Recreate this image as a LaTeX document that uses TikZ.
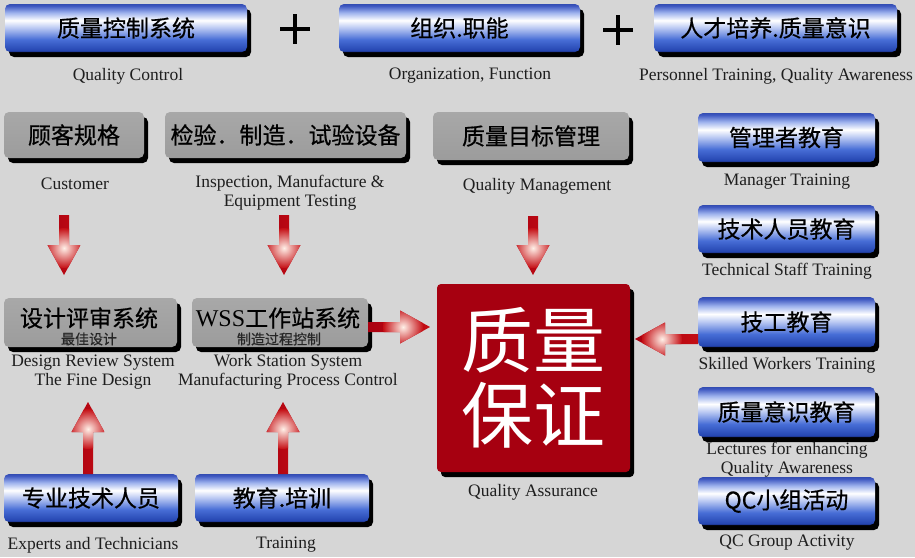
\documentclass[tikz,border=0pt]{standalone}
\usepackage{fontspec}
\setmainfont{Liberation Serif}
\newfontfamily\cjk{Noto Sans CJK SC}
\newfontfamily\cjkbox{Noto Sans CJK SC}[FakeBold=0.6]
\usetikzlibrary{shadows}
\definecolor{bg}{RGB}{214,214,214}
\definecolor{boxgray}{RGB}{156,156,156}
\definecolor{boxgraytop}{RGB}{168,168,168}
\definecolor{qred}{RGB}{166,0,16}
\definecolor{arrowred}{RGB}{196,14,20}
\definecolor{arrowdark}{RGB}{170,0,16}
\definecolor{arrowglow}{RGB}{255,240,232}
\definecolor{labeltext}{RGB}{30,30,30}
\pgfdeclareverticalshading{bluegrad}{100bp}{rgb(0bp)=(0.1,0.18,0.5); rgb(25bp)=(0.1,0.18,0.5); rgb(27bp)=(0.15,0.28,0.7); rgb(38bp)=(0.28,0.43,0.84); rgb(50bp)=(0.72,0.78,0.95); rgb(58bp)=(1,1,1); rgb(66bp)=(0.62,0.7,0.93); rgb(73bp)=(0.25,0.35,0.76); rgb(75bp)=(0.2,0.3,0.7); rgb(100bp)=(0.2,0.3,0.7)}
\newcommand{\fatarrow}[3]{%
  \begin{scope}[shift={(#1)}, rotate=#2]
    \begin{scope}
      \clip (0,5) -- (#3-30,5) -- (#3-30,16.5) -- (#3,0) -- (#3-30,-16.5) -- (#3-30,-5) -- (0,-5) -- cycle;
      \shade[left color=arrowdark, right color=arrowred] (-1,-20) rectangle (#3+1,20);
      \shade[inner color=arrowglow, outer color=arrowred] (#3-27,0) circle (20);
    \end{scope}
  \end{scope}}
\tikzset{
  boxshadow/.style={general shadow={fill=black, shadow xshift=4pt, shadow yshift=-5pt}},
  bluebox/.style={rounded corners=5pt, shade, shading=bluegrad, inner sep=0pt, boxshadow,
    font=\cjkbox\fontsize{23}{23}\selectfont, text=black},
  graybox/.style={rounded corners=5pt, top color=boxgraytop, bottom color=boxgray, inner sep=0pt, boxshadow,
    font=\cjkbox\fontsize{23}{23}\selectfont, text=black},
  lbl/.style={font=\fontsize{17.5}{19}\selectfont, text=labeltext, align=center, inner sep=0pt},
  boxtxt/.style={font=\cjkbox\fontsize{23}{23}\selectfont, text=black, inner sep=0pt},
  subtxt/.style={font=\cjkbox\fontsize{14}{14}\selectfont, text=black!85, inner sep=0pt},
  plus/.style={line width=4.5pt}
}
\begin{document}
\begin{tikzpicture}[x=1pt,y=-1pt]
\fill[bg] (0,0) rectangle (915,557);
\useasboundingbox (0,0) rectangle (915,557);

% top row
\node[bluebox, minimum width=242pt, minimum height=48pt] (qc) at (126,28) {质量控制系统};
\node[bluebox, minimum width=241pt, minimum height=48pt] (org) at (459.5,28) {组织.职能};
\node[bluebox, minimum width=243pt, minimum height=48pt] (per) at (775.5,28) {人才培养.质量意识};
\node[lbl] (qcl) at (128,76) {Quality Control};
\node[lbl] (orgl) at (470,76) {Organization, Function};
\node[lbl] (perl) at (776,76) {Personnel Training, Quality Awareness};
\draw[plus] (280,29) -- (310,29) (295,14) -- (295,44);
\draw[plus] (603,30) -- (633,30) (618,15) -- (618,45);

% second row
\node[graybox, minimum width=140pt, minimum height=46pt] (cust) at (74,135) {顾客规格};
\node[graybox, minimum width=241pt, minimum height=46pt] (insp) at (285.5,135) {检验．制造．试验设备};
\node[graybox, minimum width=196pt, minimum height=48pt] (qm) at (531,136) {质量目标管理};
\node[lbl] (custl) at (75,184) {Customer};
\node[lbl] (inspl) at (290,193) {Inspection, Manufacture \&\\Equipment Testing};
\node[lbl] (qml) at (537,186) {Quality Management};

% right column
\node[bluebox, minimum width=177pt, minimum height=49pt] (mgr) at (786.5,137.5) {管理者教育};
\node[bluebox, minimum width=177pt, minimum height=48pt] (tech) at (786.5,229) {技术人员教育};
\node[bluebox, minimum width=177pt, minimum height=50pt] (skill) at (786.5,322) {技工教育};
\node[bluebox, minimum width=177pt, minimum height=50pt] (qae) at (786.5,412) {质量意识教育};
\node[bluebox, minimum width=177pt, minimum height=48pt] (qcg) at (786.5,501) {QC小组活动};
\node[lbl] (mgrl) at (787,182) {Manager Training};
\node[lbl] (techl) at (787,271) {Technical Staff Training};
\node[lbl] (skilll) at (787,365) {Skilled Workers Training};
\node[lbl] (qael) at (787,460) {Lectures for enhancing\\Quality Awareness};
\node[lbl] (qcgl) at (787,543) {QC Group Activity};

% centre
\node[rounded corners=4pt, fill=qred, boxshadow, minimum width=193pt, minimum height=188pt, inner sep=0pt,
  font=\cjk\fontsize{72}{75}\selectfont, text=white, align=center] (qa) at (533.5,378) {质量\\保证};
\node[lbl] (qal) at (533,492) {Quality Assurance};

% third row
\node[graybox, minimum width=173pt, minimum height=49pt] (dr) at (90.5,322.5) {};
\node[boxtxt] (drt) at (89,318) {设计评审系统};
\node[subtxt] (drs) at (89,339) {最佳设计};
\node[graybox, minimum width=176pt, minimum height=49pt] (wss) at (280,322.5) {};
\node[boxtxt] (wsst) at (278,318) {{\rmfamily\fontsize{24}{24}\selectfont WSS}工作站系统};
\node[subtxt] (wsss) at (279,339) {制造过程控制};
\node[lbl] (drl) at (93,372) {Design Review System\\The Fine Design};
\node[lbl] (wssl) at (288,372) {Work Station System\\Manufacturing Process Control};

% bottom row
\node[bluebox, minimum width=174pt, minimum height=48pt] (exp) at (91,498) {专业技术人员};
\node[bluebox, minimum width=174pt, minimum height=48pt] (trn) at (282,498) {教育.培训};
\node[lbl] (expl) at (93,545) {Experts and Technicians};
\node[lbl] (trnl) at (286,545) {Training};

% arrows
\coordinate (a1) at (64,215);
\coordinate (a2) at (284,215);
\coordinate (a3) at (533,216);
\coordinate (a4) at (88,474);
\coordinate (a5) at (283,474);
\coordinate (a6) at (368,327);
\coordinate (a7) at (698,339);
\fatarrow{a1}{-90}{60}
\fatarrow{a2}{-90}{60}
\fatarrow{a3}{-90}{59}
\fatarrow{a4}{90}{72}
\fatarrow{a5}{90}{72}
\fatarrow{a6}{0}{62}
\fatarrow{a7}{180}{63}
\end{tikzpicture}
\end{document}
